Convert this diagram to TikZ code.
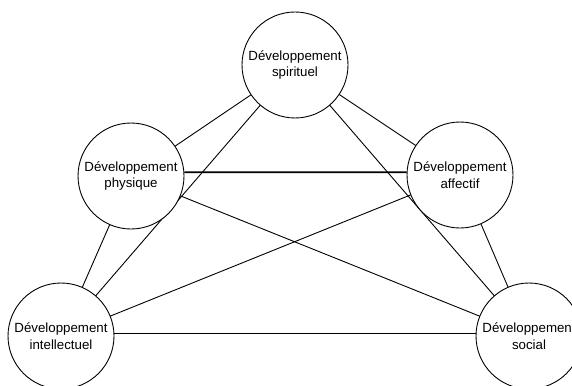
\documentclass[tikz,border=0pt]{standalone}
\usepackage{fontspec}
\setmainfont{Liberation Sans}
\usetikzlibrary{backgrounds}
\begin{document}
\begin{tikzpicture}[x=1pt,y=-1pt,
  devnode/.style={circle,draw=black,line width=0.9pt,fill=white,minimum size=106pt,inner sep=0pt,align=center,font=\fontsize{13.3}{16.8}\selectfont},
  link/.style={draw=black,line width=0.9pt},
  thicklink/.style={draw=black,line width=1.8pt}]
\path[use as bounding box] (0,0) rectangle (572,385);
\clip (0,0) rectangle (572,385);
\node[devnode] (spi) at (295,65) {Développement\\spirituel};
\node[devnode] (phy) at (131,176) {Développement\\physique};
\node[devnode] (aff) at (460,175) {Développement\\affectif};
\node[devnode] (int) at (61,336) {Développement\\intellectuel};
\node[devnode] (soc) at (529,336) {Développement\\social};
\begin{pgfonlayer}{background}
\fill[white] (0,0) rectangle (572,385);
\draw[link] (spi.center) -- (phy.center);
\draw[link] (spi.center) -- (aff.center);
\draw[link] (spi.center) -- (int.center);
\draw[link] (spi.center) -- (soc.center);
\draw[thicklink] (phy.4) -- (aff.177);
\draw[link] (phy.center) -- (int.center);
\draw[link] (phy.center) -- (soc.center);
\draw[link] (aff.center) -- (int.center);
\draw[link] (aff.center) -- (soc.center);
\draw[link] (int.3) -- (soc.177);
\end{pgfonlayer}
\end{tikzpicture}
\end{document}
